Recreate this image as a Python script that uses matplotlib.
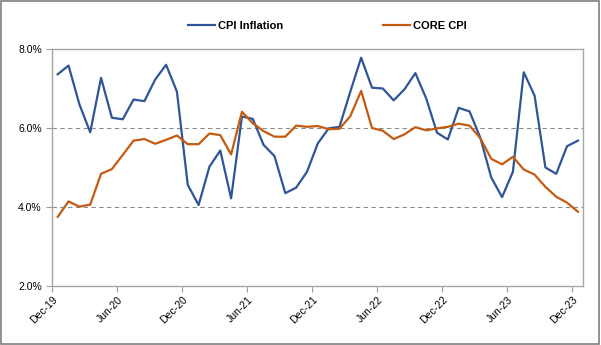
import matplotlib
matplotlib.use("Agg")
import matplotlib.pyplot as plt
from matplotlib.patches import Rectangle
from matplotlib.ticker import FuncFormatter

months = ["Dec-19", "Jan-20", "Feb-20", "Mar-20", "Apr-20", "May-20", "Jun-20", "Jul-20",
          "Aug-20", "Sep-20", "Oct-20", "Nov-20", "Dec-20", "Jan-21", "Feb-21", "Mar-21",
          "Apr-21", "May-21", "Jun-21", "Jul-21", "Aug-21", "Sep-21", "Oct-21", "Nov-21",
          "Dec-21", "Jan-22", "Feb-22", "Mar-22", "Apr-22", "May-22", "Jun-22", "Jul-22",
          "Aug-22", "Sep-22", "Oct-22", "Nov-22", "Dec-22", "Jan-23", "Feb-23", "Mar-23",
          "Apr-23", "May-23", "Jun-23", "Jul-23", "Aug-23", "Sep-23", "Oct-23", "Nov-23",
          "Dec-23"]

cpi = [7.36, 7.58, 6.60, 5.89, 7.27, 6.26, 6.22, 6.72, 6.68, 7.23, 7.60, 6.92,
       4.56, 4.05, 5.02, 5.43, 4.22, 6.29, 6.23, 5.57, 5.29, 4.35, 4.49, 4.89,
       5.61, 5.99, 6.03, 6.92, 7.78, 7.02, 7.00, 6.70, 6.98, 7.39, 6.75, 5.88,
       5.71, 6.51, 6.42, 5.75, 4.75, 4.25, 4.89, 7.41, 6.82, 5.00, 4.84, 5.54,
       5.68]

core = [3.75, 4.14, 4.01, 4.06, 4.84, 4.96, 5.32, 5.68, 5.72, 5.60, 5.70, 5.81,
        5.59, 5.59, 5.86, 5.82, 5.33, 6.41, 6.12, 5.92, 5.78, 5.78, 6.06, 6.03,
        6.05, 5.97, 5.98, 6.30, 6.94, 6.00, 5.93, 5.72, 5.84, 6.02, 5.94, 5.99,
        6.03, 6.11, 6.06, 5.74, 5.22, 5.08, 5.27, 4.95, 4.82, 4.51, 4.26, 4.11,
        3.88]

plt.rcParams['font.family'] = ['Liberation Sans', 'DejaVu Sans']

fig = plt.figure(figsize=(6.01, 3.45), dpi=100)
ax = fig.add_axes([0.087, 0.171, 0.8836, 0.687])

x = range(len(months))
ax.plot(x, cpi, color='#2F5597', lw=1.6, label='CPI Inflation')
ax.plot(x, core, color='#C55A11', lw=1.6, label='CORE CPI')

ax.set_xlim(-0.5, len(months) - 0.5)
ax.set_ylim(2, 8)
ax.set_yticks([2, 4, 6, 8])
ax.yaxis.set_major_formatter(FuncFormatter(lambda v, p: f"{v:.1f}%"))
for g in [4, 6]:
    ax.axhline(g, color='#8C8C8C', lw=0.8, ls=(0, (4, 3)), zorder=0)

tick_pos = [i - 0.5 for i in range(0, len(months), 6)]
ax.set_xticks(tick_pos)
ax.set_xticklabels([months[i] for i in range(0, len(months), 6)],
                   rotation=45, ha='right', rotation_mode='anchor', fontsize=7.5)
ax.tick_params(axis='y', labelsize=7.5, length=4, color='#A0A0A0')
ax.tick_params(axis='x', length=4, color='#A0A0A0', pad=2)

for s in ax.spines.values():
    s.set_color('#A6A6A6')
    s.set_linewidth(1.0)

leg = fig.legend(loc='center', bbox_to_anchor=(0.545, 0.926), ncol=2, frameon=False,
                 prop={'weight': 'bold', 'size': 8}, columnspacing=9.0,
                 handlelength=2.4, handletextpad=0.3)

fig.patches.append(Rectangle((0.001, 0.003), 0.996, 0.994, transform=fig.transFigure,
                             fill=False, edgecolor='#7F7F7F', lw=1.2))

fig.savefig('out.png', dpi=100)
